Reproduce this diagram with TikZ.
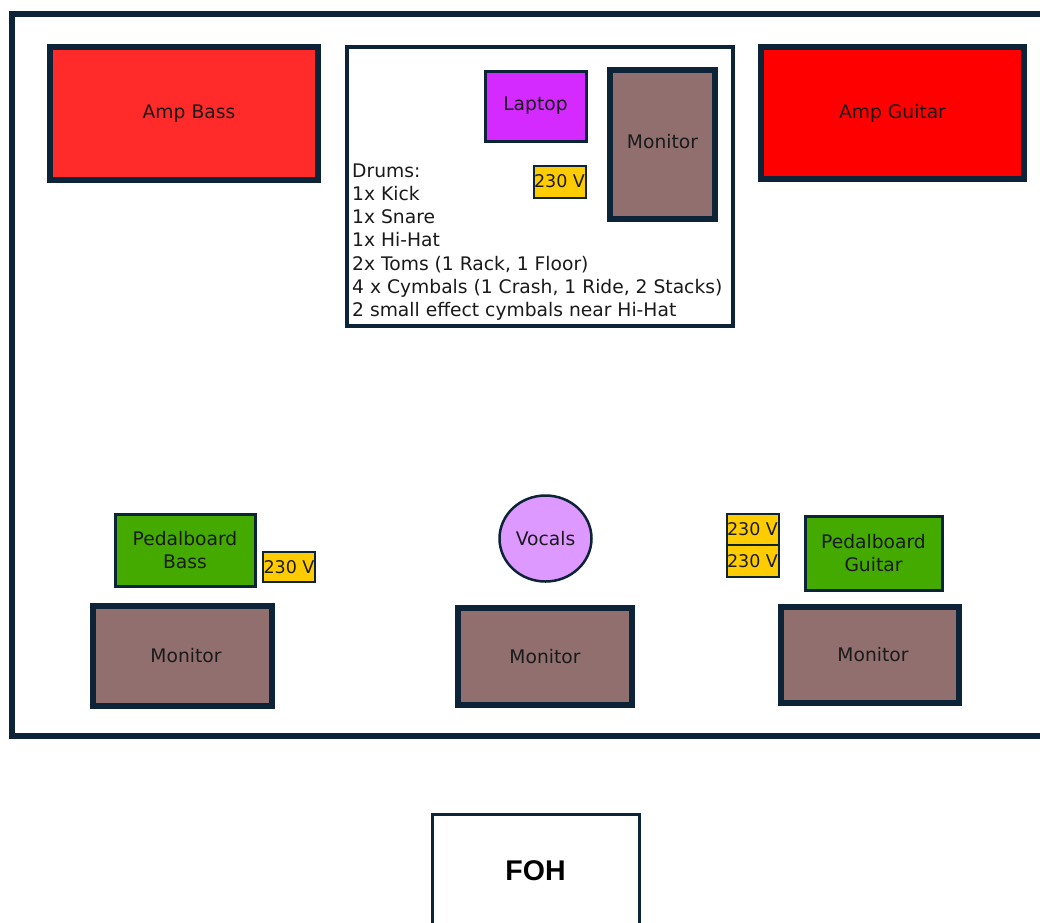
\documentclass[tikz,border=0pt]{standalone}
\usepackage{fontspec}
\setmainfont{DejaVu Sans}
\newfontfamily\fohfont{Liberation Sans}
\usetikzlibrary{shapes.geometric}
\definecolor{navy}{RGB}{13,35,56}
\definecolor{ampbassc}{HTML}{FF2A2A}
\definecolor{ampguitc}{HTML}{FF0000}
\definecolor{laptopc}{HTML}{D42AFF}
\definecolor{monc}{HTML}{916F6F}
\definecolor{voltc}{HTML}{FFCC00}
\definecolor{pedalc}{HTML}{44AA00}
\definecolor{vocc}{HTML}{DD99FF}
\definecolor{txt}{HTML}{1A1A1A}
\tikzset{
  base/.style={draw=navy, inner sep=0pt, outer sep=0pt, text=txt,
    font=\fontsize{18.7}{23}\selectfont, align=center},
  monbox/.style={base, line width=6pt, fill=monc},
  voltbox/.style={base, line width=2pt, fill=voltc, minimum width=52pt,
    font=\fontsize{17.5}{20}\selectfont},
  pedbox/.style={base, line width=3pt, fill=pedalc},
  drumtxt/.style={inner sep=0pt, anchor=base west, text=txt,
    font=\fontsize{18.7}{23}\selectfont},
}
\begin{document}
\begin{tikzpicture}[x=1pt,y=-1pt]
\useasboundingbox (0,0) rectangle (1040,922);
\clip (0,0) rectangle (1040,922);
\fill[white] (0,0) rectangle (1040,922);
% stage
\draw[navy, line width=6pt] (1060,14) -- (11.5,14) -- (11.5,736) -- (1060,736);
% amps
\node[base, line width=6pt, fill=ampbassc, minimum width=268pt, minimum height=133pt] (ampbass) at (184,113.5) {\hspace*{10pt}Amp Bass};
\node[base, line width=6pt, fill=ampguitc, minimum width=263pt, minimum height=132pt] (ampguitar) at (892.5,113) {Amp Guitar};
% drums riser
\node[base, line width=4pt, fill=white, minimum width=386pt, minimum height=279pt] (drums) at (540,186.5) {};
\node[base, line width=3pt, fill=laptopc, minimum width=101pt, minimum height=70pt] (laptop) at (535.5,106) {Laptop};
\node[monbox, minimum width=105pt, minimum height=149pt] (mondrums) at (662.5,144.5) {\raisebox{7pt}{Monitor}};
\node[voltbox, minimum height=32pt] (voltdrums) at (559.5,181.5) {230 V};
\node[drumtxt] (d1) at (352,177) {Drums:};
\node[drumtxt] (d2) at (352,200.3) {1x Kick};
\node[drumtxt] (d3) at (352,223.6) {1x Snare};
\node[drumtxt] (d4) at (352,246.9) {1x Hi-Hat};
\node[drumtxt] (d5) at (352,270.2) {2x Toms (1 Rack, 1 Floor)};
\node[drumtxt] (d6) at (352,293.5) {4 x Cymbals (1 Crash, 1 Ride, 2 Stacks)};
\node[drumtxt] (d7) at (352,316.8) {2 small effect cymbals near Hi-Hat};
% bass side
\node[pedbox, minimum width=140pt, minimum height=72pt] (pedbass) at (185,550) {Pedalboard\\Bass};
\node[voltbox, minimum height=30pt] (voltbass) at (289,567) {230 V};
\node[monbox, minimum width=179pt, minimum height=100pt] (monbass) at (182.5,656) {\hspace*{7pt}Monitor};
% vocals
\node[base, ellipse, line width=2.5pt, fill=vocc, minimum width=92pt, minimum height=86pt] (vocals) at (545.5,538.5) {Vocals};
\node[monbox, minimum width=174pt, minimum height=97pt] (monvoc) at (545,656.5) {Monitor};
% guitar side
\node[voltbox, minimum height=31pt] (voltg1) at (752.5,529.5) {230 V};
\node[voltbox, minimum height=32pt] (voltg2) at (752.5,561) {230 V};
\node[pedbox, minimum width=137pt, minimum height=74pt] (pedguitar) at (873.5,553) {Pedalboard\\Guitar};
\node[monbox, minimum width=178pt, minimum height=96pt] (monguitar) at (870,655) {\hspace*{6pt}Monitor};
% FOH
\node[base, line width=3pt, fill=white, minimum width=207pt, minimum height=126pt] (foh) at (535.5,877) {};
\node[inner sep=0pt, font=\fohfont\bfseries\fontsize{28.5}{30}\selectfont, text=black] (fohtext) at (535.5,871) {FOH};
\end{tikzpicture}
\end{document}
